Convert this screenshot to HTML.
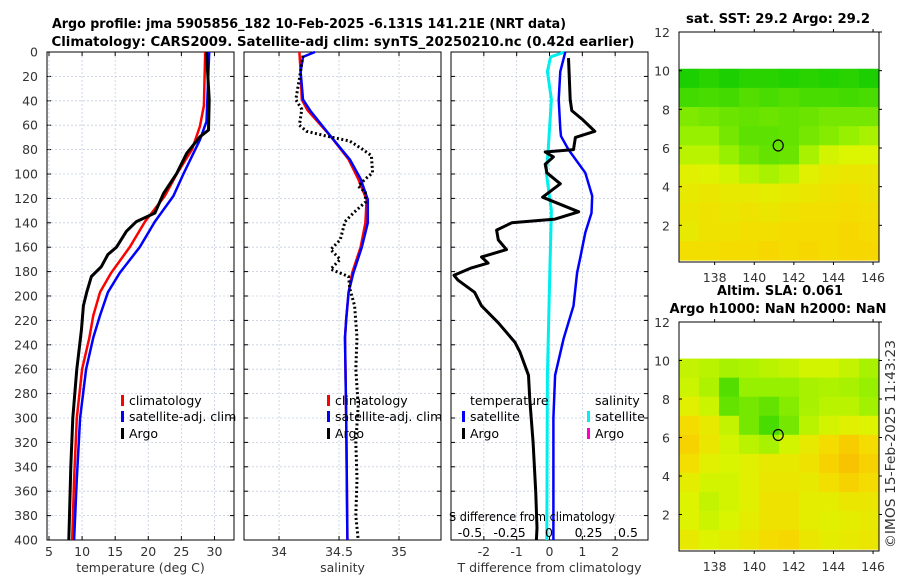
<!DOCTYPE html>
<html><head><meta charset="utf-8">
<style>
body{margin:0;background:#fff;width:900px;height:580px;overflow:hidden}
svg{font-family:"DejaVu Sans","Liberation Sans",sans-serif;}
</style></head>
<body>
<svg id="c" width="900" height="580" xmlns="http://www.w3.org/2000/svg">
<text x="309" y="28" text-anchor="middle" font-size="13" font-weight="bold" textLength="514" lengthAdjust="spacingAndGlyphs">Argo profile: jma 5905856_182 10-Feb-2025 -6.131S 141.21E (NRT data)</text>
<text x="343" y="46" text-anchor="middle" font-size="13" font-weight="bold" textLength="583" lengthAdjust="spacingAndGlyphs">Climatology: CARS2009. Satellite-adj clim: synTS_20250210.nc (0.42d earlier)</text>
<text x="778" y="23" text-anchor="middle" font-size="13" font-weight="bold" textLength="184" lengthAdjust="spacingAndGlyphs">sat. SST: 29.2 Argo: 29.2</text>
<text x="780" y="295" text-anchor="middle" font-size="13" font-weight="bold" textLength="126" lengthAdjust="spacingAndGlyphs">Altim. SLA: 0.061</text>
<text x="778" y="313" text-anchor="middle" font-size="13" font-weight="bold" textLength="217" lengthAdjust="spacingAndGlyphs">Argo h1000: NaN h2000: NaN</text>
<text transform="translate(895,444) rotate(-90)" text-anchor="middle" font-size="13" fill="#333" textLength="208" lengthAdjust="spacingAndGlyphs">©IMOS 15-Feb-2025 11:43:23</text>
</svg>
<script>
// ---- data ----
const argoTDepths = [0,39,64,69.5,83,99.5,116,132,139,147,160,166,176,184,197,208,228,260,300,340,380,400];
const argoTemp = [28.8,29.2,29.1,27.8,25.8,24.3,22.3,21.0,18.2,16.7,15.2,13.9,12.9,11.4,10.7,10.2,9.9,9.2,8.6,8.3,8.1,8.0];
const climTDepths = [0,44,61,80,100,118,139,160,181,197,216,234,260,300,350,400];
const climTemp = [28.6,28.4,27.8,26.6,24.3,22.5,19.5,17.2,14.4,12.7,11.7,11.1,10.0,9.2,8.8,8.5];
const satTDepths = [0,57,72,100,118,139,160,181,197,216,234,260,300,350,400];
const satTemp = [29.2,28.8,27.8,25.3,23.8,21.0,18.7,15.7,13.9,12.7,11.7,10.6,9.7,9.2,8.8];
const climSDepths = [0,16,39,48,69,88,104,121,140,160,181,197,219,234,300,400];
const climSal = [34.17,34.18,34.19,34.24,34.43,34.58,34.66,34.73,34.72,34.68,34.61,34.58,34.56,34.55,34.56,34.57];
const satSDepths = [0,4,16,39,48,69,88,104,121,140,160,181,197,219,234,300,400];
const satSal = [34.30,34.2,34.18,34.2,34.26,34.43,34.59,34.68,34.74,34.74,34.69,34.62,34.58,34.56,34.55,34.56,34.57];
const argoSDepths = [3,22,39,47,60,65,69,73,80,85,99,104,110,115,123,132,139,154,162,170,178,184,194,208,234,260,290,320,350,380,400];
const argoSal = [34.2,34.17,34.14,34.19,34.17,34.23,34.40,34.59,34.70,34.77,34.78,34.72,34.66,34.72,34.72,34.62,34.55,34.51,34.43,34.51,34.43,34.58,34.59,34.63,34.65,34.64,34.66,34.64,34.65,34.64,34.66];
const argoTdDepths = [5,39,48,55,65,70,80,82,86,92,99,108,119,131,137,140,146,154,162,168,173,177,183,187,197,208,222,238,246,265,285,320,360,390,400];
const argoTdiff = [0.58,0.63,0.68,0.99,1.38,0.79,0.73,-0.13,0.12,-0.13,-0.08,0.33,-0.21,0.89,0.17,-1.15,-1.61,-1.56,-1.31,-2.07,-1.87,-2.38,-2.91,-2.79,-2.28,-2.07,-1.56,-1.05,-0.9,-0.64,-0.6,-0.5,-0.42,-0.38,-0.4];
const satTdDepths = [0,16,39,63,69,80,99,118,132,148,168,181,208,235,265,300,400];
const satTdiff = [0.48,0.33,0.28,0.33,0.35,0.58,1.09,1.30,1.28,1.09,0.94,0.84,0.73,0.43,0.17,0.12,0.12];
const satSdDepths = [0,4,16,39,80,99,130,181,265,400];
const satSdiff = [0.1,0.01,-0.01,0.015,-0.005,-0.017,0.015,0.005,-0.01,-0.014];
const tTicks = [5,10,15,20,25,30];
const sTicks = [34,34.5,35];
const dTicks = [-2,-1,0,1,2];
const sdTicks = [-0.5,-0.25,0,0.25,0.5];
const depthTicks = [0,20,40,60,80,100,120,140,160,180,200,220,240,260,280,300,320,340,360,380,400];
// SST map (rows top lat 10 -> 0, cols lon 136.2 -> 146.3), 0=green,1=orange
const sstGrid = [
[0.08,0.12,0.08,0.12,0.12,0.1,0.12,0.1,0.12,0.08],
[0.2,0.22,0.2,0.25,0.22,0.25,0.22,0.22,0.2,0.22],
[0.38,0.35,0.32,0.3,0.32,0.3,0.32,0.35,0.35,0.35],
[0.45,0.45,0.35,0.28,0.28,0.3,0.35,0.4,0.45,0.5],
[0.55,0.55,0.45,0.35,0.3,0.32,0.5,0.62,0.65,0.65],
[0.68,0.66,0.62,0.55,0.5,0.55,0.68,0.72,0.74,0.74],
[0.72,0.74,0.72,0.72,0.7,0.72,0.74,0.76,0.78,0.76],
[0.74,0.76,0.74,0.76,0.74,0.76,0.78,0.78,0.8,0.78],
[0.72,0.76,0.76,0.78,0.78,0.8,0.8,0.8,0.82,0.8],
[0.78,0.78,0.8,0.8,0.82,0.8,0.82,0.8,0.82,0.82]];
const slaGrid = [
[0.58,0.55,0.5,0.52,0.55,0.58,0.62,0.62,0.58,0.5],
[0.6,0.52,0.25,0.45,0.45,0.45,0.5,0.52,0.5,0.45],
[0.68,0.6,0.3,0.35,0.3,0.4,0.5,0.55,0.55,0.48],
[0.8,0.72,0.58,0.35,0.22,0.35,0.55,0.62,0.68,0.66],
[0.84,0.74,0.62,0.55,0.5,0.62,0.72,0.8,0.86,0.8],
[0.78,0.68,0.64,0.68,0.72,0.72,0.76,0.84,0.9,0.84],
[0.7,0.62,0.62,0.68,0.74,0.74,0.72,0.78,0.84,0.8],
[0.66,0.58,0.62,0.68,0.76,0.76,0.7,0.7,0.74,0.74],
[0.66,0.6,0.64,0.7,0.76,0.76,0.7,0.68,0.7,0.72],
[0.72,0.66,0.7,0.74,0.8,0.82,0.74,0.7,0.72,0.74]];
const lonTicks = [138,140,142,144,146];
const latTicks = [2,4,6,8,10,12];

const svg = document.getElementById('c');
const NS = 'http://www.w3.org/2000/svg';
function el(tag, attrs, parent){const e=document.createElementNS(NS,tag);for(const k in attrs)e.setAttribute(k,attrs[k]);(parent||svg).appendChild(e);return e;}
const Y0=52, Y1=540;
const yD = d => Y0 + d*(Y1-Y0)/400;
const panels = [
 {x0:47,x1:234,lo:4.7,hi:32.95,ticks:tTicks,label:'temperature (deg C)',name:'temperature-panel'},
 {x0:244,x1:441,lo:33.708,hi:35.35,ticks:sTicks,label:'salinity',name:'salinity-panel'},
 {x0:451,x1:648,lo:-3.0,hi:3.0,ticks:dTicks,label:'T difference from climatology',name:'difference-panel'}];
panels.forEach(p=>{p.x = v => p.x0 + (v-p.lo)*(p.x1-p.x0)/(p.hi-p.lo);});
function line(p, ds, vs, color, w, dash, name){
  const pts = ds.map((d,i)=>p.x(vs[i]).toFixed(1)+','+yD(d).toFixed(1)).join(' ');
  const e = el('polyline',{points:pts,fill:'none',stroke:color,'stroke-width':w,'stroke-linejoin':'round'});
  if(dash) e.setAttribute('stroke-dasharray',dash);
  
  
}
panels.forEach((p,pi)=>{
  const g = el('g',{});
  
  
  depthTicks.forEach(d=>{ if(d>0&&d<400) el('line',{x1:p.x0,x2:p.x1,y1:yD(d),y2:yD(d),stroke:'#c4cce0','stroke-width':0.8,'stroke-dasharray':'2,2'},g);
    el('line',{x1:p.x0,x2:p.x0+4,y1:yD(d),y2:yD(d),stroke:'#000'},g);
    el('line',{x1:p.x1,x2:p.x1-4,y1:yD(d),y2:yD(d),stroke:'#000'},g);
    if(pi===0){const t=el('text',{x:38,y:yD(d)+4.5,'text-anchor':'end','font-size':12.5,fill:'#333'},g);t.textContent=d;
      
      }
  });
  p.ticks.forEach(v=>{const x=p.x(v);
    el('line',{x1:x,x2:x,y1:Y0,y2:Y1,stroke:'#c4cce0','stroke-width':0.8,'stroke-dasharray':'2,2'},g);
    el('line',{x1:x,x2:x,y1:Y1,y2:Y1-4,stroke:'#000'},g);
    el('line',{x1:x,x2:x,y1:Y0,y2:Y0+4,stroke:'#000'},g);
    const t=el('text',{x:x,y:556,'text-anchor':'middle','font-size':12.5,fill:'#333'},g);t.textContent=v;
    
    
  });
  el('rect',{x:p.x0,y:Y0,width:p.x1-p.x0,height:Y1-Y0,fill:'none',stroke:'#000','stroke-width':1},g);
  const t=el('text',{x:(p.x0+p.x1)/2,y:572,'text-anchor':'middle','font-size':12.5,fill:'#333'},g);t.textContent=p.label;
  
  
});
const P0=panels[0],P1=panels[1],P2=panels[2];
line(P0,climTDepths,climTemp,'#f00',2.5,null,'temp-climatology-line');
line(P0,satTDepths,satTemp,'#00f',2.5,null,'temp-satellite-line');
line(P0,argoTDepths,argoTemp,'#000',3,null,'temp-argo-line');
line(P1,climSDepths,climSal,'#f00',2.5,null,'sal-climatology-line');
line(P1,satSDepths,satSal,'#00f',2.5,null,'sal-satellite-line');
line(P1,argoSDepths,argoSal,'#000',3,'2,2.5','sal-argo-line');
const sdX = v => 549 + v*158;
line({x:sdX},satSdDepths,satSdiff,'#0ee',3,null,'sdiff-satellite-line');
line(P2,satTdDepths,satTdiff,'#00f',2.5,null,'tdiff-satellite-line');
line(P2,argoTdDepths,argoTdiff,'#000',3,null,'tdiff-argo-line');
(function(){
  let t=el('text',{x:532,y:521,'text-anchor':'middle','font-size':12.5,fill:'#000',textLength:166,lengthAdjust:'spacingAndGlyphs'});t.textContent='S difference from climatology';
  
  sdTicks.forEach(v=>{const tt=el('text',{x:sdX(v),y:537,'text-anchor':'middle','font-size':12.5,fill:'#000'});tt.textContent=v;
    });
})();
function leg(x,y,color,label,name){
  el('rect',{x:x,y:y-10,width:3,height:11,fill:color});
  const t=el('text',{x:x+8,y:y,'font-size':12.5,fill:'#000'});t.textContent=label;
  
  
}
leg(121,405,'#f00','climatology','legend-climatology');
leg(121,421,'#00f','satellite-adj. clim','legend-satellite');
leg(121,438,'#000','Argo','legend-argo');
leg(327,405,'#f00','climatology','legend-sal-climatology');
leg(327,421,'#00f','satellite-adj. clim','legend-sal-satellite');
leg(327,438,'#000','Argo','legend-sal-argo');
(function(){let t=el('text',{x:470,y:405,'font-size':12.5});t.textContent='temperature';
 t=el('text',{x:595,y:405,'font-size':12.5});t.textContent='salinity';})();
leg(462,421,'#00f','satellite','legend-tdiff-satellite');
leg(462,438,'#000','Argo','legend-tdiff-argo');
leg(587,421,'#0ee','satellite','legend-sdiff-satellite');
leg(587,438,'#f0c','Argo','legend-sdiff-argo');
function cmap(v){
  const stops=[[0,[0,200,0]],[0.45,[150,240,0]],[0.65,[220,245,0]],[0.8,[245,220,0]],[1,[250,170,0]]];
  for(let i=1;i<stops.length;i++){if(v<=stops[i][0]){const a=stops[i-1],b=stops[i],f=(v-a[0])/(b[0]-a[0]);
    return 'rgb('+a[1].map((c,k)=>Math.round(c+(b[1][k]-c)*f)).join(',')+')';}}
  return 'rgb(250,170,0)';
}
function map(top,bottom,grid,name){
  const X0=679,X1=879;
  const ll = lat => bottom - lat*(bottom-top)/12;
  const lx = lon => X0 + (lon-136.2)*(X1-X0)/10.1;
  const g=el('g',{});
  
  
  const rows=grid.length, cols=grid[0].length;
  const gy0=ll(10.1), gy1=ll(0.2);
  const cw=(X1-X0)/cols, ch=(gy1-gy0)/rows;
  grid.forEach((r,i)=>r.forEach((v,j)=>{
    el('rect',{x:X0+j*cw,y:gy0+i*ch,width:cw+0.5,height:ch+0.5,fill:cmap(v)},g);
  }));
  el('ellipse',{cx:lx(141.21),cy:ll(6.13),rx:5,ry:5.5,fill:'none',stroke:'#000','stroke-width':1.2},g);
  el('rect',{x:X0,y:top,width:X1-X0,height:bottom-top-2,fill:'none',stroke:'#000'},g);
  latTicks.forEach(v=>{const y=ll(v);
    el('line',{x1:X0,x2:X0+3,y1:y,y2:y,stroke:'#000'},g);el('line',{x1:X1,x2:X1+3,y1:y,y2:y,stroke:'#000'},g);
    const t=el('text',{x:670,y:y+5,'text-anchor':'end','font-size':12.5,fill:'#333'},g);t.textContent=v;
    });
  lonTicks.forEach(v=>{const x=lx(v);
    el('line',{x1:x,x2:x,y1:bottom-2,y2:bottom+1,stroke:'#000'},g);el('line',{x1:x,x2:x,y1:top,y2:top-3,stroke:'#000'},g);
    const t=el('text',{x:x,y:bottom+18,'text-anchor':'middle','font-size':12.5,fill:'#333'},g);t.textContent=v;
    });
}
map(32,264,sstGrid,'sst-map');
map(322,553,slaGrid,'sla-map');
</script>
</body></html>
